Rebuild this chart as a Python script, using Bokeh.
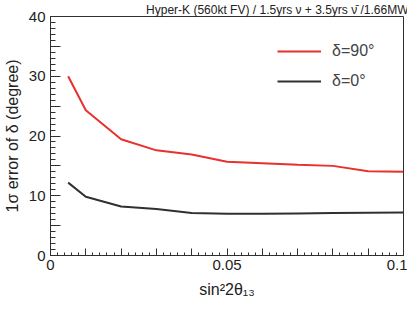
from bokeh.plotting import figure
from bokeh.models import (FixedTicker, CustomJSTickFormatter, Legend, LegendItem,
                          Range1d, Title)
from bokeh.embed import file_html
from bokeh.resources import INLINE

# ---- data ----
s2t13_90 = [0.005, 0.01, 0.02, 0.03, 0.04, 0.05, 0.06, 0.07, 0.08, 0.09, 0.1]
err_90 = [30.0, 24.3, 19.45, 17.6, 16.9, 15.7, 15.45, 15.2, 15.0, 14.1, 14.0]
s2t13_0 = [0.005, 0.01, 0.02, 0.03, 0.04, 0.05, 0.06, 0.07, 0.08, 0.09, 0.1]
err_0 = [12.2, 9.83, 8.2, 7.8, 7.1, 7.0, 7.0, 7.05, 7.1, 7.15, 7.2]
x_major = [0.0, 0.01, 0.02, 0.03, 0.04, 0.05, 0.06, 0.07, 0.08, 0.09, 0.1]
x_minor = [i * 0.002 for i in range(51)]
y_major = [0, 5, 10, 15, 20, 25, 30, 35, 40]
y_minor = list(range(41))
title_text = "Hyper-K (560kt FV) / 1.5yrs \u03bd + 3.5yrs \u03bd\u0304 /1.66MW"
label_90 = "\u03b4=90\u00b0"
label_0 = "\u03b4=0\u00b0"

FONT = "Liberation Sans"
RED = "#e8302e"
DARK = "#303030"

p = figure(width=407, height=301, output_backend="svg", toolbar_location=None,
           x_range=Range1d(0, 0.1), y_range=Range1d(0, 40),
           min_border_left=50, min_border_right=4, min_border_top=15,
           min_border_bottom=46)
p.title = Title(text=title_text, align="right", text_font=FONT,
                text_font_size="12px", text_font_style="normal",
                text_color="#222222", standoff=0, offset=-5,
                text_line_height=0.7)
p.grid.visible = False
p.outline_line_color = DARK
p.outline_line_width = 1
p.background_fill_color = "white"
p.border_fill_color = "white"

xa = p.xaxis[0]
xa.ticker = FixedTicker(ticks=x_major, minor_ticks=x_minor)
xa.formatter = CustomJSTickFormatter(code="""
const r = Math.round(tick*100);
return (r % 5 == 0) ? String(r/100) : "";
""")
ya = p.yaxis[0]
ya.ticker = FixedTicker(ticks=y_major, minor_ticks=y_minor)
ya.formatter = CustomJSTickFormatter(code="""
const r = Math.round(tick);
return (r % 10 == 0) ? String(r) : "";
""")
for ax in (xa, ya):
    ax.major_tick_out = 0
    ax.minor_tick_out = 0
    ax.axis_line_color = DARK
    ax.major_tick_line_color = DARK
    ax.minor_tick_line_color = DARK
    ax.major_label_text_font = FONT
    ax.major_label_text_font_size = "15px"
    ax.major_label_text_color = "#222222"
    ax.axis_label_text_font = FONT
    ax.axis_label_text_font_size = "16px"
    ax.axis_label_text_font_style = "normal"
    ax.axis_label_text_color = "#222222"
xa.major_tick_in = 7
xa.minor_tick_in = 3
ya.major_tick_in = 10
ya.minor_tick_in = 5
xa.major_label_standoff = 4
ya.major_label_standoff = 5
xa.axis_label = "sin\u00b22\u03b8\u2081\u2083"
ya.axis_label = "1\u03c3 error of \u03b4 (degree)"
xa.axis_label_standoff = 8
ya.axis_label_standoff = 5
ya.axis_label_text_line_height = 0.6

r90 = p.line(s2t13_90, err_90, line_color=RED, line_width=2)
r0 = p.line(s2t13_0, err_0, line_color=DARK, line_width=2)

legend = Legend(items=[LegendItem(label=label_90, renderers=[r90]),
                       LegendItem(label=label_0, renderers=[r0])],
                location=(227, 164), orientation="vertical",
                glyph_width=44, glyph_height=20, label_height=20,
                label_standoff=11, spacing=10, padding=0, margin=0,
                border_line_alpha=0, background_fill_alpha=0,
                label_text_font=FONT, label_text_font_size="16px")
p.add_layout(legend, "center")

open("out.html", "w").write(file_html(p, INLINE))
